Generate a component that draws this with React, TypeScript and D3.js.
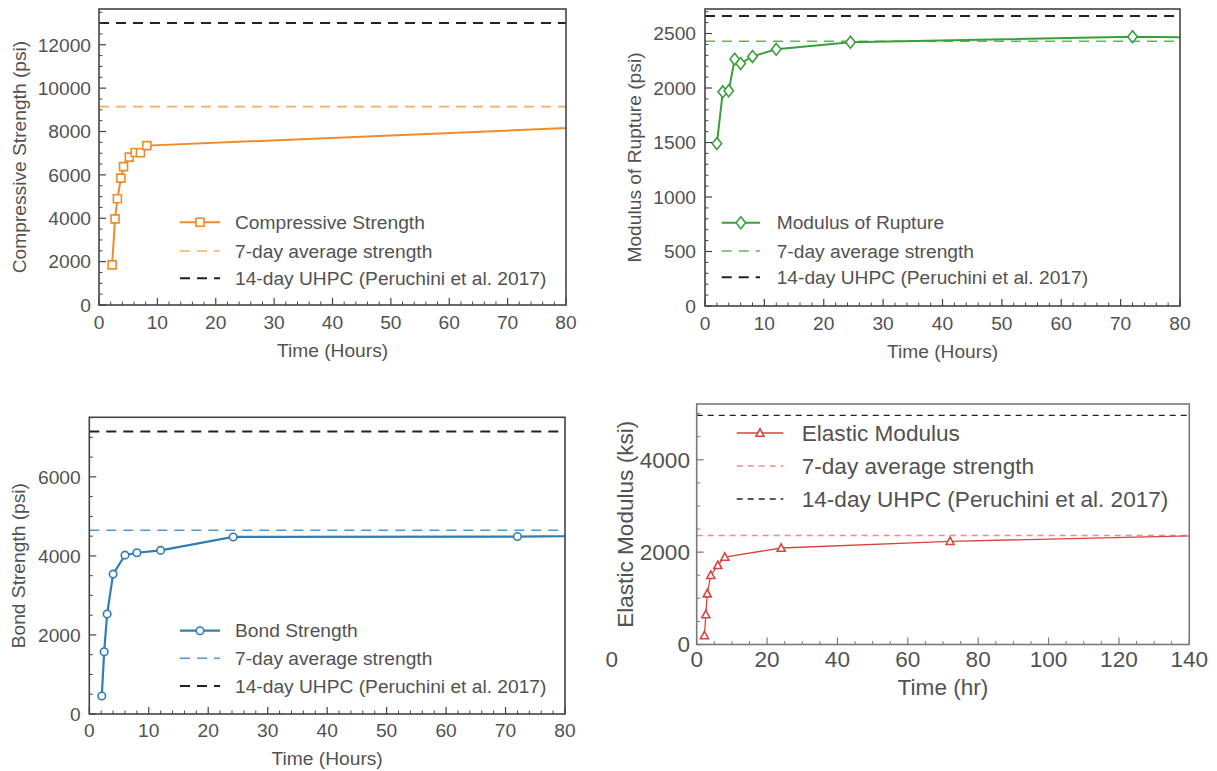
import React from 'react';
import * as d3 from 'd3';

const FONT = '"Liberation Sans", Arial, Helvetica, sans-serif';
const TEXT = '#525252';

// ---- Compressive strength (psi) ----
const compHours = [2.25, 2.75, 3.15, 3.75, 4.2, 5.2, 6.2, 7.1, 8.2, 168];
const compPsi = [1850, 3970, 4900, 5850, 6380, 6820, 7030, 7020, 7350, 9150];
const comp7Day = 9150;
const compUhpc = 13000;
const compXTicks = [0, 10, 20, 30, 40, 50, 60, 70, 80];
const compYTicks = [0, 2000, 4000, 6000, 8000, 10000, 12000];

// ---- Modulus of rupture (psi) ----
const morHours = [2, 3, 4, 5, 6, 8, 12, 24.5, 72, 168];
const morPsi = [1490, 1965, 1975, 2265, 2225, 2290, 2355, 2420, 2470, 2430];
const mor7Day = 2430;
const morUhpc = 2660;
const morXTicks = [0, 10, 20, 30, 40, 50, 60, 70, 80];
const morYTicks = [0, 500, 1000, 1500, 2000, 2500];

// ---- Bond strength (psi) ----
const bondHours = [2.1, 2.5, 3, 4, 6, 8, 12, 24.2, 72, 168];
const bondPsi = [455, 1575, 2530, 3540, 4020, 4080, 4140, 4480, 4490, 4650];
const bond7Day = 4650;
const bondUhpc = 7150;
const bondXTicks = [0, 10, 20, 30, 40, 50, 60, 70, 80];
const bondYTicks = [0, 2000, 4000, 6000];

// ---- Elastic modulus (ksi) ----
const elasHours = [2.2, 2.6, 3, 4, 6, 8, 24, 72, 168];
const elasKsi = [195, 650, 1100, 1500, 1715, 1895, 2090, 2235, 2400];
const elas7Day = 2360;
const elasUhpc = 4960;
const elasXTicks = [0, 20, 40, 60, 80, 100, 120, 140];
const elasYTicks = [0, 2000, 4000];

const legendCommon = ['7-day average strength', '14-day UHPC (Peruchini et al. 2017)'];

type Marker = 'square' | 'diamond' | 'circle' | 'triangle';

interface PanelCfg {
  id: string;
  box: { l: number; t: number; r: number; b: number };
  xMax: number;
  yMax: number;
  xTicks: number[];
  yTicks: number[];
  xMinor: number;
  yMinor: number;
  xs: number[];
  ys: number[];
  seven: number;
  uhpc: number;
  color: string;
  sevenColor: string;
  marker: Marker;
  markerSize: number;
  lineW: number;
  dash: string;
  dashW: number;
  uhpcW: number;
  frameColor: string;
  fontSize: number;
  yLabel: string;
  xLabel: string;
  yLabelX: number;
  xTickDy: number;
  xLabelDy: number;
  yTickPad: number;
  seriesName: string;
  legend: { x0: number; x1: number; tx: number; rows: number[] };
}

function markerPath(kind: Marker, s: number): string {
  const h = s / 2;
  if (kind === 'square') return `M${-h},${-h}H${h}V${h}H${-h}Z`;
  if (kind === 'diamond') return `M0,${-h * 1.25}L${h},0L0,${h * 1.25}L${-h},0Z`;
  if (kind === 'triangle') return `M0,${-h * 1.05}L${h},${h * 0.8}L${-h},${h * 0.8}Z`;
  return d3.arc()({ innerRadius: 0, outerRadius: h, startAngle: 0, endAngle: 2 * Math.PI }) as string;
}

function Panel({ c }: { c: PanelCfg }) {
  const { l, t, r, b } = c.box;
  const x = d3.scaleLinear().domain([0, c.xMax]).range([l, r]);
  const y = d3.scaleLinear().domain([0, c.yMax]).range([b, t]);
  const pts = c.xs.map((v, i) => [v, c.ys[i]] as [number, number]);
  const line = d3.line<[number, number]>().x((d) => x(d[0])).y((d) => y(d[1]));
  const xMinors = d3.range(0, c.xMax + 1e-9, c.xMinor).filter((v) => !c.xTicks.includes(v));
  const yMinors = d3.range(0, c.yMax, c.yMinor).filter((v) => !c.yTicks.includes(v));
  const mp = markerPath(c.marker, c.markerSize);
  const fs = c.fontSize;
  const lg = c.legend;
  return (
    <g fontFamily={FONT}>
      <defs>
        <clipPath id={`clip-${c.id}`}>
          <rect x={l} y={t} width={r - l} height={b - t} />
        </clipPath>
      </defs>
      <g clipPath={`url(#clip-${c.id})`}>
        <line x1={l} x2={r} y1={y(c.uhpc)} y2={y(c.uhpc)} stroke="#222" strokeWidth={c.uhpcW} strokeDasharray={c.dash} />
        <line x1={l} x2={r} y1={y(c.seven)} y2={y(c.seven)} stroke={c.sevenColor} strokeWidth={c.dashW} strokeDasharray={c.dash} />
        <path d={line(pts) as string} fill="none" stroke={c.color} strokeWidth={c.lineW} />
        {pts.map((p, i) => (
          <path key={i} d={mp} transform={`translate(${x(p[0])},${y(p[1])})`} fill="#fff" stroke={c.color} strokeWidth={1.6} />
        ))}
      </g>
      {/* ticks, drawn inward on the left and bottom */}
      {c.xTicks.map((v) => (
        <line key={`xt${v}`} x1={x(v)} x2={x(v)} y1={b} y2={b - 7} stroke={c.frameColor} strokeWidth={1.2} />
      ))}
      {xMinors.map((v) => (
        <line key={`xm${v}`} x1={x(v)} x2={x(v)} y1={b} y2={b - 3.5} stroke={c.frameColor} strokeWidth={1} />
      ))}
      {c.yTicks.map((v) => (
        <line key={`yt${v}`} x1={l} x2={l + 7} y1={y(v)} y2={y(v)} stroke={c.frameColor} strokeWidth={1.2} />
      ))}
      {yMinors.map((v) => (
        <line key={`ym${v}`} x1={l} x2={l + 3.5} y1={y(v)} y2={y(v)} stroke={c.frameColor} strokeWidth={1} />
      ))}
      <rect x={l} y={t} width={r - l} height={b - t} fill="none" stroke={c.frameColor} strokeWidth={1.6} />
      {c.xTicks.map((v) => (
        <text key={`xl${v}`} x={x(v)} y={b + c.xTickDy} textAnchor="middle" dy="0.35em" fontSize={fs} fill={TEXT}>
          {v}
        </text>
      ))}
      {c.yTicks.map((v) => (
        <text key={`yl${v}`} x={l - c.yTickPad} y={y(v)} textAnchor="end" dy="0.35em" fontSize={fs} fill={TEXT}>
          {v}
        </text>
      ))}
      <text x={(l + r) / 2} y={b + c.xLabelDy} textAnchor="middle" dy="0.35em" fontSize={fs} fill={TEXT}>
        {c.xLabel}
      </text>
      <text
        transform={`translate(${c.yLabelX},${(t + b) / 2}) rotate(-90)`}
        textAnchor="middle"
        dy="0.35em"
        fontSize={fs}
        fill={TEXT}
      >
        {c.yLabel}
      </text>
      {/* legend */}
      <line x1={lg.x0} x2={lg.x1} y1={lg.rows[0]} y2={lg.rows[0]} stroke={c.color} strokeWidth={c.lineW} />
      <path d={mp} transform={`translate(${(lg.x0 + lg.x1) / 2},${lg.rows[0]})`} fill="#fff" stroke={c.color} strokeWidth={1.6} />
      <line x1={lg.x0} x2={lg.x1} y1={lg.rows[1]} y2={lg.rows[1]} stroke={c.sevenColor} strokeWidth={c.dashW} strokeDasharray={c.dash} />
      <line x1={lg.x0} x2={lg.x1} y1={lg.rows[2]} y2={lg.rows[2]} stroke="#222" strokeWidth={c.uhpcW} strokeDasharray={c.dash} />
      {[c.seriesName, ...legendCommon].map((s, i) => (
        <text key={s} x={lg.tx} y={lg.rows[i]} dy="0.35em" fontSize={fs} fill={TEXT}>
          {s}
        </text>
      ))}
    </g>
  );
}

const panels: PanelCfg[] = [
  {
    id: 'comp',
    box: { l: 99, t: 9, r: 566, b: 305 },
    xMax: 80,
    yMax: compUhpc * 1.05,
    xTicks: compXTicks,
    yTicks: compYTicks,
    xMinor: 2,
    yMinor: 500,
    xs: compHours,
    ys: compPsi,
    seven: comp7Day,
    uhpc: compUhpc,
    color: '#f08c28',
    sevenColor: '#f5ad62',
    marker: 'square',
    markerSize: 8,
    lineW: 2,
    dash: '10 7',
    dashW: 1.6,
    uhpcW: 2,
    frameColor: '#444',
    fontSize: 19.2,
    yLabel: 'Compressive Strength (psi)',
    xLabel: 'Time (Hours)',
    yLabelX: 19,
    xTickDy: 17.5,
    xLabelDy: 45,
    yTickPad: 8,
    seriesName: 'Compressive Strength',
    legend: { x0: 180, x1: 220, tx: 235, rows: [222.3, 251, 278.3] },
  },
  {
    id: 'mor',
    box: { l: 705, t: 9, r: 1180, b: 306 },
    xMax: 80,
    yMax: 2725,
    xTicks: morXTicks,
    yTicks: morYTicks,
    xMinor: 2,
    yMinor: 100,
    xs: morHours,
    ys: morPsi,
    seven: mor7Day,
    uhpc: morUhpc,
    color: '#3a9f3a',
    sevenColor: '#5cba5c',
    marker: 'diamond',
    markerSize: 9.5,
    lineW: 2,
    dash: '10 7',
    dashW: 1.5,
    uhpcW: 2,
    frameColor: '#444',
    fontSize: 19.2,
    yLabel: 'Modulus of Rupture (psi)',
    xLabel: 'Time (Hours)',
    yLabelX: 634,
    xTickDy: 17.5,
    xLabelDy: 45,
    yTickPad: 9,
    seriesName: 'Modulus of Rupture',
    legend: { x0: 721.7, x1: 760, tx: 776.7, rows: [222.7, 251, 277.3] },
  },
  {
    id: 'bond',
    box: { l: 89.3, t: 417.3, r: 565, b: 714 },
    xMax: 80,
    yMax: bondUhpc * 1.05,
    xTicks: bondXTicks,
    yTicks: bondYTicks,
    xMinor: 2,
    yMinor: 500,
    xs: bondHours,
    ys: bondPsi,
    seven: bond7Day,
    uhpc: bondUhpc,
    color: '#2f7db4',
    sevenColor: '#4b9ad0',
    marker: 'circle',
    markerSize: 7.5,
    lineW: 2.2,
    dash: '10 7',
    dashW: 1.5,
    uhpcW: 2,
    frameColor: '#444',
    fontSize: 19.2,
    yLabel: 'Bond Strength (psi)',
    xLabel: 'Time (Hours)',
    yLabelX: 18,
    xTickDy: 16.7,
    xLabelDy: 44.3,
    yTickPad: 8.6,
    seriesName: 'Bond Strength',
    legend: { x0: 180, x1: 220, tx: 235, rows: [630.7, 658.3, 686] },
  },
  {
    id: 'elas',
    box: { l: 696.7, t: 404, r: 1189.3, b: 644.5 },
    xMax: 140,
    yMax: elasUhpc * 1.05,
    xTicks: elasXTicks,
    yTicks: elasYTicks,
    xMinor: 5,
    yMinor: 500,
    xs: elasHours,
    ys: elasKsi,
    seven: elas7Day,
    uhpc: elasUhpc,
    color: '#d8443f',
    sevenColor: '#ef8a8a',
    marker: 'triangle',
    markerSize: 8,
    lineW: 1.3,
    dash: '6 5',
    dashW: 1.3,
    uhpcW: 1.3,
    frameColor: '#7a7a7a',
    fontSize: 22.6,
    yLabel: 'Elastic Modulus (ksi)',
    xLabel: 'Time (hr)',
    yLabelX: 625,
    xTickDy: 15,
    xLabelDy: 43,
    yTickPad: 6.7,
    seriesName: 'Elastic Modulus',
    legend: { x0: 736.7, x1: 783.3, tx: 801.7, rows: [433, 466, 499] },
  },
];

export default function App() {
  return (
    <svg
      width={1217}
      height={771}
      viewBox="0 0 1217 771"
      style={{ position: 'absolute', left: 0, top: 0, background: '#fff' }}
    >
      <rect width={1217} height={771} fill="#fff" />
      {panels.map((c) => (
        <Panel key={c.id} c={c} />
      ))}
      <text x={611.7} y={659} dy="0.35em" textAnchor="middle" fontSize={22.6} fill={TEXT} fontFamily={FONT}>
        0
      </text>
    </svg>
  );
}
